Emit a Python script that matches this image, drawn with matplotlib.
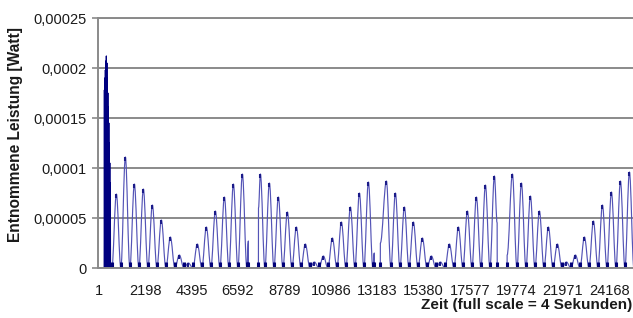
import matplotlib
matplotlib.use("Agg")
import matplotlib.pyplot as plt
from matplotlib.path import Path
from matplotlib.patches import PathPatch
import numpy as np

plt.rcParams["font.family"] = ["Liberation Sans", "DejaVu Sans"]

# ---------------- data ----------------
# initial transient burst: spike sample indices and peak power [W]
burst_t = [274, 297, 320, 343, 366, 389, 412, 435, 458, 481, 504, 527, 550]
burst_p = [178e-6, 190e-6, 198e-6, 207e-6, 212e-6, 205e-6, 190e-6, 175e-6,
           161e-6, 145e-6, 125e-6, 105e-6, 85e-6]

# oscillation humps, segment 1
seg1_t = [839, 1265, 1691, 2117, 2543, 2969, 3395, 3821, 4247, 4673, 5099,
          5525, 5951, 6377, 6803]
seg1_p = [74e-6, 111e-6, 84e-6, 79e-6, 63e-6, 48e-6, 31e-6, 13e-6, 5e-6,
          24e-6, 41e-6, 57e-6, 71e-6, 84e-6, 94e-6]
# dropout 1
gap1_t = [7086, 7090, 7562, 7566]
gap1_p = [27e-6, 0.0, 0.0, 60e-6]
# segment 2
seg2_t = [7655, 8081, 8507, 8933, 9359, 9785, 10211, 10637, 11063, 11489,
          11915, 12341, 12767]
seg2_p = [94e-6, 85e-6, 71e-6, 56e-6, 41e-6, 24e-6, 6e-6, 12e-6, 30e-6,
          46e-6, 61e-6, 75e-6, 86e-6]
# dropout 2
gap2_t = [13045, 13049, 13330, 13334]
gap2_p = [15e-6, 0.0, 0.0, 25e-6]
# segment 3
seg3_t = [13619, 14045, 14471, 14897, 15323, 15749, 16175, 16601, 17027,
          17453, 17879, 18305, 18731]
seg3_p = [87e-6, 75e-6, 61e-6, 46e-6, 30e-6, 12e-6, 6e-6, 24e-6, 41e-6,
          57e-6, 71e-6, 83e-6, 92e-6]
# dropout 3
gap3_t = [18860, 18864, 19330, 19334]
gap3_p = [45e-6, 0.0, 0.0, 13e-6]
# segment 4
seg4_t = [19583, 20009, 20435, 20861, 21287, 21713, 22139, 22565, 22991,
          23417, 23843, 24269, 24695, 25121, 25547]
seg4_p = [94e-6, 85e-6, 72e-6, 57e-6, 41e-6, 24e-6, 6e-6, 13e-6, 31e-6,
          47e-6, 63e-6, 76e-6, 87e-6, 96e-6, 100e-6]

half_period = 213
burst_half = 11

y_ticks = [0, 0.00005, 0.0001, 0.00015, 0.0002, 0.00025]
y_labels = ["0", "0,00005", "0,0001", "0,00015", "0,0002", "0,00025"]
x_tick_labels = [1, 2198, 4395, 6592, 8789, 10986, 13183, 15380, 17577,
                 19774, 21971, 24168]


def humps(pk_t, pk_p, half, lead=True, trail=True):
    t, p = [], []
    for i, (a, b) in enumerate(zip(pk_t, pk_p)):
        if i == 0:
            if lead:
                t.append(a - half); p.append(0.0)
        else:
            t.append((pk_t[i - 1] + a) / 2); p.append(0.0)
        t.append(a); p.append(b)
    if trail:
        t.append(pk_t[-1] + half); p.append(0.0)
    return t, p


burst_zeit, burst_leist = humps(burst_t, burst_p, burst_half)
parts = [
    humps(seg1_t, seg1_p, half_period),
    (gap1_t, gap1_p),
    humps(seg2_t, seg2_p, half_period, lead=False),
    (gap2_t, gap2_p),
    humps(seg3_t, seg3_p, half_period, lead=False, trail=False),
    (gap3_t, gap3_p),
    humps(seg4_t, seg4_p, half_period, lead=False),
]
zeit = np.concatenate([np.asarray(a, float) for a, _ in parts])
leistung = np.concatenate([np.asarray(b, float) for _, b in parts])
peak_zeit = np.asarray(seg1_t + seg2_t + seg3_t + seg4_t, float)
peak_leist = np.asarray(seg1_p + seg2_p + seg3_p + seg4_p, float)


def smooth_path(t, p):
    """Path through the traced vertices; rise/fall between trough and peak
    drawn as a cubic curve with horizontal tangents (rounded humps)."""
    verts = [(t[0], p[0])]
    codes = [Path.MOVETO]
    for i in range(1, len(t)):
        t0, p0, t1, p1 = t[i - 1], p[i - 1], t[i], p[i]
        d = t1 - t0
        if d > 40 and p0 != p1:
            a = 0.3634 * d
            verts += [(t0 + a, p0), (t1 - a, p1), (t1, p1)]
            codes += [Path.CURVE4] * 3
        else:
            verts.append((t1, p1))
            codes.append(Path.LINETO)
    return Path(verts, codes)


# ---------------- figure ----------------
W, H = 633, 318
fig = plt.figure(figsize=(W / 100, H / 100), dpi=100)
ax = fig.add_axes([98 / W, 1 - 268 / H, 535 / W, 250 / H])

grey = "#8a8a8a"
ax.set_ylim(0, 0.00025)
ax.set_xlim(-30, 25290)
ax.set_yticks(y_ticks)
ax.set_yticklabels(y_labels)
ax.set_xticks(x_tick_labels)
ax.set_xticklabels([str(v) for v in x_tick_labels])

ax.yaxis.grid(True, color=grey, lw=1.4)
ax.set_axisbelow(True)
ax.spines["right"].set_visible(False)
for s in ["left", "bottom", "top"]:
    ax.spines[s].set_color(grey)
    ax.spines[s].set_linewidth(1.4)

ax.tick_params(axis="y", length=4, width=1.2, color=grey, pad=4,
               labelsize=10.5, labelcolor="#1a1a1a")
ax.tick_params(axis="x", length=0, pad=11.5, labelsize=10.5,
               labelcolor="#1a1a1a")

ax.plot(burst_zeit, burst_leist, color="#000080", lw=0.9,
        solid_joinstyle="round")
ax.add_patch(PathPatch(smooth_path(zeit, leistung), fill=False,
                       edgecolor="#5454b6", lw=0.85, joinstyle="round"))

# dark data-point marks at troughs and at peaks
low = (leistung == 0)
ax.plot(zeit[low], leistung[low] + 0.0000028, ls="none", marker="|",
        ms=4, mew=2.2, color="#000078", clip_on=False)
ax.plot(peak_zeit, peak_leist - 0.0000022, ls="none", marker="|",
        ms=3, mew=1.5, color="#1a1a88")

fig.text(16 / W, 1 - 135 / H, "Entnommene Leistung [Watt]", rotation=90,
         ha="center", va="center", fontsize=11.2, fontweight="bold",
         color="#1a1a1a")
fig.text(632 / W, 1 - 305 / H, "Zeit (full scale = 4 Sekunden)",
         ha="right", va="center", fontsize=11, fontweight="bold",
         color="#1a1a1a")

fig.savefig("out.png", dpi=100, facecolor="white")
